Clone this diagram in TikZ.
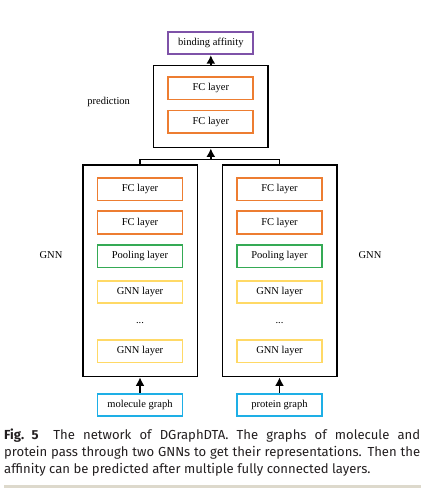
\documentclass[tikz,border=0pt]{standalone}
\usepackage{fontspec}
\setmainfont{Liberation Serif}
\newfontfamily\capfont{Fira Sans}
\usepackage{xcolor}
\usepackage{tikz}
\usetikzlibrary{arrows.meta}

\definecolor{fcorange}{HTML}{ED7D31}
\definecolor{poolgreen}{HTML}{35AA55}
\definecolor{gnnyellow}{HTML}{FFD966}
\definecolor{inblue}{HTML}{1EAFE6}
\definecolor{outpurple}{HTML}{7E52A8}
\definecolor{barbeige}{HTML}{DDD9CC}
\definecolor{captext}{HTML}{231F20}

\begin{document}
\begin{tikzpicture}[x=1pt, y=-1pt,
    every node/.style={font=\fontsize{10.5}{12}\selectfont, inner sep=0pt},
    layer/.style={draw, rectangle, minimum width=85pt, minimum height=22.5pt, line width=1.8pt, fill=white},
    fc/.style={layer, draw=fcorange},
    pool/.style={layer, draw=poolgreen},
    gnn/.style={layer, draw=gnnyellow},
    inbox/.style={layer, draw=inblue},
    outbox/.style={layer, draw=outpurple, minimum height=22pt},
    block/.style={draw, rectangle, line width=1.5pt, minimum width=114.5pt},
    link/.style={line width=1.5pt, -{Latex[length=8.5pt, width=9pt]}}]
        \useasboundingbox (0,0) rectangle (437,493);

        % Define the outer boxes
        \node[block, minimum height=82pt] (pred) at (210.8,106.7) {};
        \node[block, minimum height=211.5pt] (left) at (140,270.9) {};
        \node[block, minimum height=211.5pt] (right) at (279.5,270.9) {};

        % Define output and prediction layers
        \node[outbox] (out) at (210.8,43.3) {binding affinity};
        \node[fc] (P1) at (210.8,88.3) {FC layer};
        \node[fc] (P2) at (210.8,121.7) {FC layer};

        % Define layers of the molecule GNN
        \node[fc] (L1) at (140,189.2) {FC layer};
        \node[fc] (L2) at (140,222.5) {FC layer};
        \node[pool] (L3) at (140,256.2) {Pooling layer};
        \node[gnn] (L4) at (140,292) {GNN layer};
        \node (L5) at (140,323.5) {...};
        \node[gnn] (L6) at (140,351.3) {GNN layer};
        \node[inbox] (mol) at (140,405) {molecule graph};

        % Define layers of the protein GNN
        \node[fc] (R1) at (279.5,189.2) {FC layer};
        \node[fc] (R2) at (279.5,222.5) {FC layer};
        \node[pool] (R3) at (279.5,256.2) {Pooling layer};
        \node[gnn] (R4) at (279.5,292) {GNN layer};
        \node (R5) at (279.5,323.5) {...};
        \node[gnn] (R6) at (279.5,351.3) {GNN layer};
        \node[inbox] (prot) at (279.5,405) {protein graph};

        % Side labels
        \node (predlbl) at (108.7,101.7) {prediction};
        \node (gnnL) at (51,255.5) {GNN};
        \node (gnnR) at (370,255.5) {GNN};

        % Define connections
        \coordinate (merge) at (210.8,159.3);
        \draw[line width=1.5pt] (left.north) |- (merge) -| (right.north);
        \draw[link] (merge) -- (pred.south);
        \draw[link] (pred.north) -- (out.south);
        \draw[link] (mol.north) -- (left.south);
        \draw[link] (prot.north) -- (right.south);

        % Caption and rule below it
        \node[anchor=north west, text width=416pt, align=justify, text=captext,
              font=\capfont\fontsize{13.1}{17}\selectfont] (cap) at (4,429)
          {\textbf{Fig.~5}\hspace{0.5em} The network of DGraphDTA. The graphs of molecule and\linebreak
           protein pass through two GNNs to get their representations. Then the\linebreak
           affinity can be predicted after multiple fully connected layers.};
        \fill[barbeige] (4,484.5) rectangle (421,487.5);
    \end{tikzpicture}
\end{document}
